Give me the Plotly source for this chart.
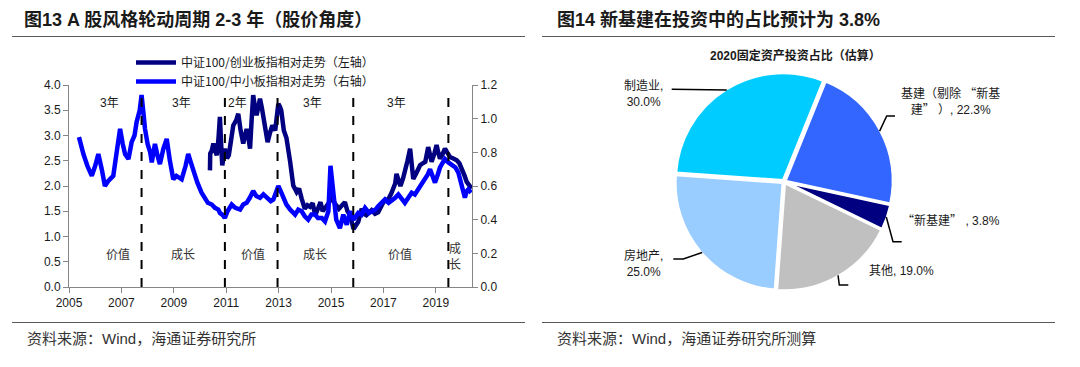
import math
import plotly.graph_objects as go

# page is 1080x367; the figure div sits at an 8px body margin
PAGE_W, PAGE_H = 1080, 367
OFF = 8
W, H = PAGE_W - 2 * OFF, PAGE_H - 2 * OFF

# ---------------- Data: left chart ----------------
navy_name = "中证100/创业板指相对走势（左轴）"
blue_name = "中证100/中小板指相对走势（右轴）"

navy_x = [2010.38, 2010.39, 2010.45, 2010.51, 2010.58, 2010.64, 2010.70, 2010.76, 2010.80, 2010.85,
          2010.95, 2011.03, 2011.10, 2011.18, 2011.27, 2011.38, 2011.46, 2011.55, 2011.65, 2011.72,
          2011.78, 2011.85, 2011.91, 2011.97, 2012.03, 2012.10, 2012.16, 2012.22, 2012.29, 2012.36,
          2012.42, 2012.50, 2012.58, 2012.67, 2012.76, 2012.87, 2012.94, 2012.99, 2013.05, 2013.10,
          2013.20, 2013.30, 2013.44, 2013.50, 2013.56, 2013.69, 2013.78, 2013.88, 2013.94, 2014.00,
          2014.10, 2014.20, 2014.30, 2014.40, 2014.50, 2014.60, 2014.68, 2014.77, 2014.90, 2015.03,
          2015.15, 2015.30, 2015.40, 2015.53, 2015.63, 2015.73, 2015.86, 2015.95, 2016.04, 2016.17,
          2016.25, 2016.35, 2016.45, 2016.55, 2016.68, 2016.80, 2016.90, 2017.00, 2017.10, 2017.20,
          2017.30, 2017.38, 2017.45, 2017.50, 2017.58, 2017.65, 2017.75, 2017.82, 2017.92, 2018.02,
          2018.08, 2018.14, 2018.25, 2018.40, 2018.50, 2018.60, 2018.71, 2018.78, 2018.84, 2018.95,
          2019.03, 2019.10, 2019.16, 2019.25, 2019.35, 2019.45, 2019.55, 2019.65, 2019.80, 2019.90,
          2020.00, 2020.10, 2020.18, 2020.28, 2020.37]
navy_y = [2.31, 2.64, 2.70, 2.84, 2.70, 2.61, 2.90, 3.37, 2.90, 2.41,
          2.74, 2.55, 2.61, 2.95, 3.20, 3.30, 3.43, 3.10, 2.84, 3.00,
          3.13, 2.95, 2.74, 3.30, 3.80, 3.55, 3.40, 3.55, 3.73, 3.55,
          3.33, 3.10, 2.87, 3.05, 3.20, 3.10, 3.40, 3.63, 3.57, 3.50,
          3.10, 2.95, 2.48, 2.18, 2.01, 1.88, 1.95, 1.75, 1.66, 1.55,
          1.62, 1.59, 1.66, 1.42, 1.55, 1.68, 1.50, 1.55, 1.65, 1.78,
          1.65, 1.55, 1.62, 1.68, 1.50, 1.42, 1.15, 1.22, 1.29, 1.55,
          1.45, 1.42, 1.48, 1.52, 1.45, 1.48, 1.58, 1.68, 1.72, 1.75,
          1.85, 1.95, 2.05, 2.24, 2.10, 2.00, 2.15, 2.34, 2.50, 2.74,
          2.45, 2.14, 2.25, 2.41, 2.45, 2.48, 2.77, 2.60, 2.48, 2.65,
          2.81, 2.65, 2.54, 2.62, 2.74, 2.65, 2.57, 2.55, 2.51, 2.45,
          2.34, 2.20, 2.08, 2.00, 1.95]

blue_x = [2005.38, 2005.45, 2005.55, 2005.70, 2005.87, 2006.00, 2006.12, 2006.25, 2006.37, 2006.50,
          2006.69, 2006.80, 2006.95, 2007.05, 2007.14, 2007.27, 2007.39, 2007.50, 2007.58, 2007.70,
          2007.77, 2007.85, 2007.90, 2008.00, 2008.10, 2008.16, 2008.28, 2008.38, 2008.47, 2008.60,
          2008.73, 2008.85, 2008.98, 2009.10, 2009.30, 2009.45, 2009.55, 2009.65, 2009.74, 2009.90,
          2010.06, 2010.20, 2010.30, 2010.45, 2010.57, 2010.70, 2010.76, 2010.85, 2010.95, 2011.05,
          2011.21, 2011.35, 2011.53, 2011.65, 2011.78, 2011.90, 2012.03, 2012.15, 2012.29, 2012.42,
          2012.55, 2012.70, 2012.80, 2012.90, 2012.99, 2013.08, 2013.18, 2013.30, 2013.44, 2013.55,
          2013.63, 2013.75, 2013.88, 2014.00, 2014.13, 2014.25, 2014.39, 2014.50, 2014.65, 2014.77,
          2014.90, 2014.98, 2015.03, 2015.09, 2015.20, 2015.34, 2015.47, 2015.60, 2015.73, 2015.86,
          2016.04, 2016.17, 2016.30, 2016.45, 2016.55, 2016.70, 2016.80, 2016.95, 2017.06, 2017.20,
          2017.30, 2017.45, 2017.57, 2017.70, 2017.82, 2017.95, 2018.08, 2018.20, 2018.33, 2018.45,
          2018.59, 2018.70, 2018.78, 2018.88, 2018.97, 2019.08, 2019.16, 2019.27, 2019.35, 2019.48,
          2019.60, 2019.75, 2019.86, 2019.97, 2020.05, 2020.11, 2020.18, 2020.24, 2020.35]
blue_y = [0.89, 0.84, 0.79, 0.72, 0.66, 0.72, 0.79, 0.70, 0.60, 0.63,
          0.66, 0.78, 0.94, 0.85, 0.79, 0.76, 0.86, 0.90, 0.98, 1.05,
          1.14, 1.02, 0.94, 0.85, 0.80, 0.74, 0.85, 0.78, 0.73, 0.82,
          0.88, 0.75, 0.64, 0.66, 0.64, 0.72, 0.79, 0.74, 0.69, 0.62,
          0.56, 0.53, 0.50, 0.49, 0.47, 0.46, 0.44, 0.43, 0.41, 0.45,
          0.49, 0.47, 0.46, 0.49, 0.50, 0.53, 0.57, 0.54, 0.53, 0.55,
          0.53, 0.51, 0.52, 0.56, 0.60, 0.57, 0.53, 0.49, 0.46, 0.44,
          0.43, 0.46, 0.45, 0.42, 0.40, 0.43, 0.43, 0.41, 0.41, 0.39,
          0.45, 0.72, 0.65, 0.52, 0.40, 0.35, 0.43, 0.37, 0.45, 0.40,
          0.44, 0.43, 0.47, 0.44, 0.45, 0.46, 0.48, 0.50, 0.52, 0.50,
          0.51, 0.53, 0.55, 0.52, 0.50, 0.53, 0.56, 0.55, 0.58, 0.61,
          0.64, 0.67, 0.70, 0.66, 0.62, 0.67, 0.71, 0.74, 0.76, 0.74,
          0.73, 0.71, 0.68, 0.62, 0.56, 0.53, 0.57, 0.58, 0.56]

divider_years = [2007.77, 2010.95, 2012.96, 2015.85, 2019.48]
divider_top = 3.9

cycle_labels = ["3年", "3年", "2年", "3年", "3年"]
cycle_x = [2006.56, 2009.30, 2011.45, 2014.31, 2017.50]
cycle_y = 3.64

style_labels = ["价值", "成长", "价值", "成长", "价值", "成<br>长"]
style_x = [2006.88, 2009.37, 2012.01, 2014.39, 2017.65, 2019.73]
style_y = [0.67, 0.67, 0.67, 0.67, 0.67, 0.63]

x_ticks = [2005, 2007, 2009, 2011, 2013, 2015, 2017, 2019]

# ---------------- Data: pie ----------------
pie_labels = ["基建（剔除“新基建”）", "“新基建”", "其他", "房地产", "制造业"]
pie_values = [22.3, 3.8, 19.0, 25.0, 30.0]
pie_colors = ["#3366FF", "#000080", "#C0C0C0", "#99CCFF", "#00CCFF"]
Q1 = '<span style="font-family:Noto Sans CJK SC">“</span>'
Q2 = '<span style="font-family:Noto Sans CJK SC">”</span>'
pie_text = [f"基建（剔除 {Q1}新基<br>建{Q2} ）, 22.3%", f"{Q1}新基建{Q2} , 3.8%", "其他, 19.0%",
            "房地产,<br>25.0%", "制造业,<br>30.0%"]

# ---------------- Layout constants ----------------
FONT = "Liberation Sans, Noto Sans CJK SC, sans-serif"
CJK = "Noto Sans CJK SC, sans-serif"
PIE_CX, PIE_CY, PIE_R = 784, 181.7, 109
PIE_ROT = 22
PULL = 0.015


def px(x):
    return (x - OFF) / W


def py(y):
    return 1 - (y - OFF) / H


fig = go.Figure()

fig.add_trace(go.Scatter(x=navy_x, y=navy_y, mode="lines", name=navy_name,
                         line=dict(color="#000080", width=4.5), yaxis="y"))
fig.add_trace(go.Scatter(x=blue_x, y=blue_y, mode="lines", name=blue_name,
                         line=dict(color="#0000FF", width=4.5), yaxis="y2"))

fig.add_trace(go.Pie(labels=pie_labels, values=pie_values, sort=False, direction="clockwise",
                     rotation=PIE_ROT, marker=dict(colors=pie_colors, line=dict(color="white", width=2.5)),
                     textinfo="none", pull=[PULL] * len(pie_values), showlegend=False,
                     domain=dict(x=[px(PIE_CX - PIE_R), px(PIE_CX + PIE_R)],
                                 y=[py(PIE_CY + PIE_R), py(PIE_CY - PIE_R)])))

shapes = []
# dashed dividers
for d in divider_years:
    shapes.append(dict(type="line", xref="x", yref="y", x0=d, x1=d, y0=0, y1=divider_top,
                       line=dict(color="black", width=2, dash="dash"), layer="above"))

# rule lines
for (x0, x1) in [(12, 525), (542, 1055)]:
    for yy in [3.5, 36.5, 322.5]:
        shapes.append(dict(type="line", xref="paper", yref="paper", x0=px(x0), x1=px(x1),
                           y0=py(yy), y1=py(yy), line=dict(color="#595959", width=1)))

# pie leader lines: start at slice mid-angle edge, computed from values
r_edge = PIE_R / (1 + PULL) * (1 + PULL * 0.5)
total = sum(pie_values)
cum = 0
mid_pts = []
for v in pie_values:
    a = math.radians(PIE_ROT + (cum + v / 2) / total * 360)
    mid_pts.append((PIE_CX + r_edge * math.sin(a), PIE_CY - r_edge * math.cos(a)))
    cum += v
leader_tail = [
    [(886.7, 116), (895, 116)],
    [(893, 241.7), (901.7, 241.7)],
    [(839.3, 285), (848.3, 285)],
    [(683.3, 259), (673.3, 259)],
    [(671.7, 89.3)],
]
for (sx, sy), tail in zip(mid_pts, leader_tail):
    pts = [(sx, sy)] + tail
    path = "M " + " L ".join(f"{px(a):.5f},{py(b):.5f}" for a, b in pts)
    shapes.append(dict(type="path", xref="paper", yref="paper", path=path,
                       line=dict(color="black", width=1.5)))

annotations = []
annotations.append(dict(text="<b>图13 A 股风格轮动周期 2-3 年（股价角度）</b>", x=px(22), y=py(20),
                        xref="paper", yref="paper", xanchor="left", yanchor="middle", showarrow=False,
                        font=dict(family=FONT, size=18, color="#1a1a1a")))
annotations.append(dict(text="<b>图14 新基建在投资中的占比预计为 3.8%</b>", x=px(555), y=py(20),
                        xref="paper", yref="paper", xanchor="left", yanchor="middle", showarrow=False,
                        font=dict(family=FONT, size=18, color="#1a1a1a")))
annotations.append(dict(text="资料来源：Wind，海通证券研究所", x=px(25), y=py(338),
                        xref="paper", yref="paper", xanchor="left", yanchor="middle", showarrow=False,
                        font=dict(family=FONT, size=15, color="#333333")))
annotations.append(dict(text="资料来源：Wind，海通证券研究所测算", x=px(555), y=py(338),
                        xref="paper", yref="paper", xanchor="left", yanchor="middle", showarrow=False,
                        font=dict(family=FONT, size=15, color="#333333")))
annotations.append(dict(text="<b>2020固定资产投资占比（估算）</b>", x=px(795), y=py(55),
                        xref="paper", yref="paper", xanchor="center", yanchor="middle", showarrow=False,
                        font=dict(family=FONT, size=12, color="#1a1a1a")))

for t, xv in zip(cycle_labels, cycle_x):
    annotations.append(dict(text=t, x=xv, y=cycle_y, xref="x", yref="y", showarrow=False,
                            font=dict(family=FONT, size=12, color="#1a1a1a")))
for t, xv, yv in zip(style_labels, style_x, style_y):
    annotations.append(dict(text=t, x=xv, y=yv, xref="x", yref="y", showarrow=False,
                            font=dict(family=CJK, size=12, color="#333333")))

# pie labels (layout positions)
label_pos = [(950, 100), (951, 219), (901, 271), (643, 263), (643, 94)]
for t, (lx, ly) in zip(pie_text, label_pos):
    annotations.append(dict(text=t, x=px(lx), y=py(ly), xref="paper", yref="paper",
                            xanchor="center", yanchor="middle", showarrow=False, align="center",
                            font=dict(family=FONT, size=12, color="#1a1a1a")))

axis_col = "#868686"
fig.update_layout(
    width=W, height=H, margin=dict(l=0, r=0, t=0, b=0, autoexpand=False),
    paper_bgcolor="white", plot_bgcolor="white",
    font=dict(family=FONT, size=12, color="#1a1a1a"),
    xaxis=dict(domain=[px(69), px(472)], range=[2005, 2005 + (472 - 69) / 26.2], automargin=False,
               tickvals=x_ticks, ticktext=[str(v) for v in x_ticks], showgrid=False, zeroline=False,
               showline=True, linecolor=axis_col, ticks="outside", ticklen=5, tickcolor=axis_col,
               tickfont=dict(family="Liberation Sans Narrow, Liberation Sans", size=12, color="#1a1a1a")),
    yaxis=dict(domain=[py(287), py(85)], range=[0, 4], dtick=0.5, tickformat=".1f", showgrid=False,
               automargin=False,
               zeroline=False, showline=True, linecolor=axis_col, ticks="outside", ticklen=5,
               tickcolor=axis_col, tickfont=dict(size=12, color="#1a1a1a")),
    yaxis2=dict(overlaying="y", side="right", anchor="x", range=[0, 1.2], dtick=0.2, tickformat=".1f",
                automargin=False,
                showgrid=False, zeroline=False, showline=True, linecolor=axis_col, ticks="outside",
                ticklen=5, tickcolor=axis_col, tickfont=dict(size=12, color="#1a1a1a")),
    legend=dict(x=px(131), y=py(48), xanchor="left", yanchor="top", bgcolor="rgba(0,0,0,0)",
                font=dict(family=CJK, size=12, color="#1a1a1a"), itemwidth=40, tracegroupgap=0),
    shapes=shapes, annotations=annotations,
)

fig.write_html("out.html")
